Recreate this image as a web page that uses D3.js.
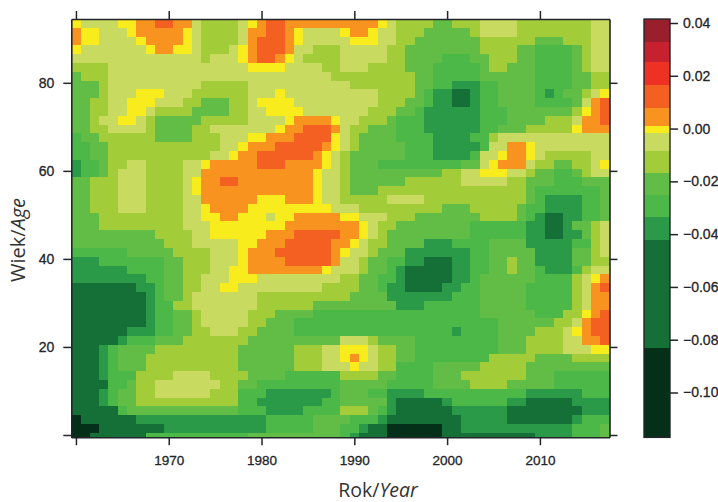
<!DOCTYPE html>
<html><head><meta charset="utf-8">
<style>html,body{margin:0;padding:0;background:#fff}svg{display:block}</style>
<script src="https://cdn.jsdelivr.net/npm/d3@7"></script></head><body><svg id="c" width="718" height="502"></svg>
<script>
// Colour classes: value bands and fills
const bandBreaks=[-0.117,-0.083,-0.042,-0.0335,-0.025,-0.0165,-0.0085,-0.0017,0.0013,0.0081,0.0165,0.0252,0.0331,0.0415];
const bandColors=["#04301a","#157038","#2a9a48","#4cb848","#62bd46","#a2cd39","#c9da60","#f9ec1d","#f8931f","#f36021","#ef3124","#c7202f","#9a1f2d"];
const bandCodes="abcdefghijklm";
const bandValues=[-0.10,-0.06,-0.038,-0.03,-0.02,-0.012,-0.005,0,0.005,0.012,0.02,0.03,0.038];
const legendTicks=[0.04,0.02,0,-0.02,-0.04,-0.06,-0.08,-0.10];
const yearTicks=[1960,1970,1980,1990,2000,2010];
const yearLabels=["","1970","1980","1990","2000","2010"];
const ageTicks=[0,20,40,60,80];
// Each entry: top age of a two-age row, then "startColumn+class" runs (column 0 = 1960)
const rowTops=[94,92,90,88,86,84,82,80,78,76,74,72,70,68,66,64,62,60,58,56,54,52,50,48,46,44,42,40,38,36,34,32,30,28,26,24,22,20,18,16,14,12,10,8,6,4,2,0];
const rowRuns=[
"0h 1g 5h 7i 9j 11i 13g 14f 18g 19h 20i 21j 23i 33h 34g 35f 39e 41f 44g 48f 56g",
"0i 1h 3g 6h 7i 12h 13g 14f 18g 19i 21j 23i 24h 25g 29h 30i 32h 33g 35f 38e 43f 44g 48f 56g",
"0i 1h 3g 7h 8i 12h 13g 14f 18g 19i 20j 23i 24h 25g 30h 33g 35f 37e 44f 50e 53f 56g",
"0h 1g 8h 9i 11h 13g 14f 17g 18h 19i 20j 23i 24g 26f 29g 34f 36e 44f 48e 50d 54e 55f 56g",
"0g 14f 15g 18h 19i 20j 22i 23h 24g 25f 29g 34f 36e 40d 43e 45f 48e 50d 54e 55f 56g",
"0f 4g 19h 23g 27f 29g 32f 36e 39d 44e 45f 47e 50d 54e 55f 56g",
"0e 1f 4g 28f 37e 39d 44e 50d 54e 56f",
"0e 3f 4g 14f 19g 30f 37e 39d 41c 44d 46e 50d 54e 56f",
"0e 3f 4g 7h 10g 13f 19g 22h 23g 33f 37e 38d 39c 41b 43c 44d 46e 50d 51c 52d 53e 55f 56g 57h",
"0e 2f 4g 6h 9g 12f 14e 17f 19g 20h 24g 33f 36e 38d 39c 41b 43c 44d 46e 50d 54e 55g 56i 57j",
"0e 2f 4g 6h 8g 9f 13e 17f 19g 21h 25g 32f 35e 37d 38c 44d 47e 54f 55h 56i 57j",
"0e 2f 3g 5h 7g 8f 9e 14f 19g 23h 24i 28h 29g 31f 34e 35d 38c 44d 47e 51f 54g 55i 57j",
"0e 2f 4g 8f 9e 13f 15g 22h 23i 25j 28i 29g 30f 32e 35d 38c 44d 46e 49f 54h 55i",
"0d 1e 3f 9e 13f 16g 19h 21i 24j 28h 29g 30f 31e 35d 39c 43d 45f 46g",
"0d 2e 4f 16g 18h 19i 22j 27i 28h 29g 30f 31e 36d 39c 44d 45g 47i 49h 50g",
"0d 2e 4f 15g 17h 18i 20j 26i 27h 28g 29f 30e 36d 39c 43d 44g 46h 47i 49h 50g 51f 56g",
"0c 1d 3e 4f 6g 8f 12g 14h 15i 20j 23i 27h 28g 29f 30e 33d 42e 44g 45h 46i 49g 50f 52e 54f 56g 57h",
"0c 1d 3e 4f 5g 8f 12g 14i 26h 27g 29f 30e 40f 42g 44h 47g 49f 50e 52d 54e 55f 56g",
"0e 2f 5g 8f 12g 13h 14i 16j 18i 26h 27g 29f 30e 36f 42g 47f 49e 52d 55e",
"0e 2f 5g 8f 12g 13h 14i 26h 27g 29f 30e 33f 49e 50d 57e",
"0e 2f 5g 8f 12g 14i 20h 23i 26h 27g 29f 34g 38f 49e 50d 51c 55d 57e",
"0e 2f 5g 8f 12g 14h 15i 19h 28g 31f 40e 43f 48e 49d 51c 55d 57e",
"0e 3f 12g 14h 16i 18h 21g 22h 24i 29h 31g 34f 37e 44f 48e 49d 50c 51b 53c 55d 57e",
"0e 3f 12g 15h 23i 31h 32g 33f 35e 43d 49c 51b 53c 54e 56f 57g",
"0e 9f 13g 15h 21i 24j 29i 31h 32g 33f 34e 43d 49c 51b 53c 55e 56f 57g",
"0e 10f 13g 18h 20i 23j 28i 30h 31g 32f 34e 38c 41d 45e 49c 54d 56f 57g",
"0d 6e 11f 15g 18h 19i 22j 28i 29h 30g 32f 33e 36c 43d 45e 50c 54e 56f 57g",
"0c 3d 10e 12f 15g 18h 19i 23j 28i 29g 31f 32e 34d 36c 38b 41c 43d 45e 47f 48e 50c 54e 56f",
"0c 6d 10e 12f 15g 17h 19i 27h 28g 31f 32e 34d 35c 36b 41c 43d 45e 47f 48e 50d 51c 54d 55f 56g",
"0c 8d 10e 12f 14g 17h 20g 29f 31e 33d 35c 36b 41c 43d 44e 50d 54f 55g 56h 57i",
"0b 7c 9d 10e 12f 14g 16h 18g 27f 31e 33d 34c 36b 40c 42d 44e 49d 54f 55g 56i 57j",
"0b 8c 9d 10e 12f 13g 20f 30e 34c 41d 44e 49d 54f 55g 56i",
"0b 8c 9d 11f 13g 20f 26e 35c 38d 44e 49d 54f 55g 56i",
"0b 8c 9d 11e 13f 14g 19f 22e 26d 44e 50d 53f 55h 56i 57j",
"0b 8c 9d 11e 13f 14g 19f 21e 24d 46e 52f 54g 55i 56j",
"0b 6c 9d 11e 13f 15g 18f 20e 24d 41c 42d 46e 50f 53g 54h 55i 56j",
"0b 5c 6d 9e 12f 19e 29g 32f 33e 37d 46e 49f 53g 55i 57j",
"0b 3c 4d 5e 9f 18e 24f 27g 29h 32g 33f 35e 37d 46e 49f 53g 56h",
"0b 3c 4d 5e 8f 18e 24f 27g 29h 30i 31h 32g 33f 35e 37d 45f 50e 54f",
"0b 3c 4d 5e 8f 18e 24f 27g 29g 30h 31g 33f 35d 39e 44f 49e",
"0b 3c 4d 7f 11g 15f 19e 23d 29f 33e 35d 39e 42f 49e 52d",
"0b 4d 6e 7f 9g 16f 18e 20d 29e 34d 39e 43f 47e 52d",
"0b 3c 4d 5e 7f 9g 15f 18d 21c 28d 29e 32d 34c 38d 49c 55d",
"0b 3c 4d 5e 7f 18d 20c 27d 29e 34c 35b 40c 41d 47c 49b 54c",
"0b 5d 6e 18d 21c 25d 29f 32e 33d 34c 35b 41c 47b 55c",
"0a 1b 7c 21d 26e 29e 30d 33c 34b 42c 47b 54c 55d",
"0a 3b 10c 21d 26e 29d 31c 32b 34a 40b 42c 54d 57e",
"0a 2b 8d 19e 29d 30c 31b 34a 40b 43b 50c 54d 57e"
];
const firstYear=1960, yearCount=58;

const svg=d3.select("#c");
const x=d3.scaleLinear().domain([1959.5,2017.5]).range([71.3,609.5]);
const y=d3.scaleLinear().domain([-0.5,94.5]).range([437.2,19]);
const colour=d3.scaleThreshold().domain(bandBreaks.slice(1,-1)).range(bandColors);
const cells=[];
rowRuns.forEach((row,r)=>{
  const runs=row.split(" ").map(s=>({c:+s.slice(0,-1),k:s.slice(-1)}));
  const top=rowTops[r], next=r+1<rowTops.length?rowTops[r+1]:top-1;
  for(let a=top;a>next;a--){
    runs.forEach((run,i)=>{
      const end=i+1<runs.length?runs[i+1].c:yearCount;
      for(let c=run.c;c<end;c++) cells.push({year:firstYear+c,age:a,value:bandValues[bandCodes.indexOf(run.k)]});
    });
  }
});
svg.append("g").attr("shape-rendering","crispEdges").selectAll("rect").data(cells).join("rect")
  .attr("x",d=>x(d.year-0.5)).attr("width",d=>x(d.year+0.5)-x(d.year-0.5)+0.4)
  .attr("y",d=>y(d.age+0.5)).attr("height",d=>y(d.age-0.5)-y(d.age+0.5)+0.4)
  .attr("fill",d=>colour(d.value));

const ink="#23252b", font="'Liberation Sans',Arial,sans-serif";
function style(g,size){g.select(".domain").attr("stroke",ink).attr("stroke-width",1.6);
  g.selectAll(".tick line").attr("stroke",ink).attr("stroke-width",1.5);
  g.selectAll("text").attr("fill",ink).attr("font-family",font).attr("font-size",size).attr("stroke",ink).attr("stroke-width",0.3);}
const bottom=svg.append("g").attr("transform","translate(0,437.2)")
  .call(d3.axisBottom(x).tickValues(yearTicks).tickSize(8).tickSizeOuter(0).tickPadding(10).tickFormat((d,i)=>yearLabels[i]));
style(bottom,13.5);
const top2=svg.append("g").attr("transform","translate(0,19)")
  .call(d3.axisTop(x).tickValues(yearTicks).tickSize(8).tickSizeOuter(0).tickFormat(""));
style(top2,13);
const left=svg.append("g").attr("transform","translate(71.3,0)")
  .call(d3.axisLeft(y).tickValues(ageTicks).tickSize(8).tickSizeOuter(0).tickPadding(9).tickFormat(d=>d===0?"":d));
style(left,14);
const right=svg.append("g").attr("transform","translate(609.5,0)")
  .call(d3.axisRight(y).tickValues(ageTicks).tickSize(8).tickSizeOuter(0).tickFormat(""));
style(right,13);

// Colour key
const ky=d3.scaleLinear().domain([-0.10,0.04]).range([392.5,23]);
svg.append("g").attr("shape-rendering","crispEdges").selectAll("rect").data(bandColors).join("rect")
  .attr("x",644).attr("width",26)
  .attr("y",(d,i)=>ky(bandBreaks[i+1])).attr("height",(d,i)=>ky(bandBreaks[i])-ky(bandBreaks[i+1])+0.4)
  .attr("fill",d=>d);
svg.append("rect").attr("x",644).attr("y",ky(bandBreaks[13])).attr("width",26)
  .attr("height",ky(bandBreaks[0])-ky(bandBreaks[13])).attr("fill","none").attr("stroke",ink).attr("stroke-width",1.4);
const keyAxis=svg.append("g").attr("transform","translate(670,0)")
  .call(d3.axisRight(ky).tickValues(legendTicks).tickSize(8).tickSizeOuter(0).tickPadding(5).tickFormat(d3.format(".2f")));
keyAxis.select(".domain").remove();
style(keyAxis,14);

svg.append("text").attr("x",378).attr("y",497).attr("text-anchor","middle")
  .attr("font-family","'Open Sans',sans-serif").attr("font-size",19.5).attr("fill","#333")
  .html('Rok/<tspan font-style="italic">Year</tspan>');
svg.append("text").attr("transform","translate(25,240) rotate(-90)").attr("text-anchor","middle")
  .attr("font-family","'Open Sans',sans-serif").attr("font-size",20).attr("fill","#333")
  .html('Wiek/<tspan font-style="italic">Age</tspan>');
</script></body></html>
